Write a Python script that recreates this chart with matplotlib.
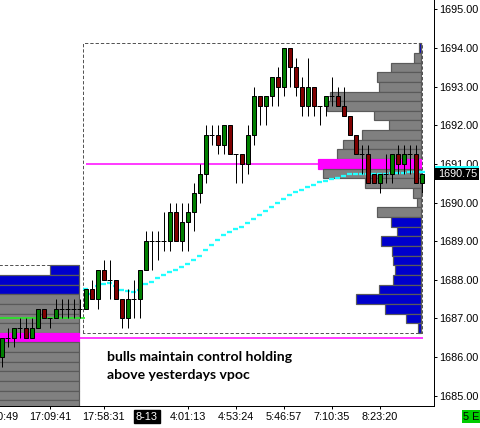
import matplotlib
matplotlib.use("Agg")
import matplotlib.pyplot as plt
from matplotlib import font_manager
from matplotlib.patches import Rectangle
from matplotlib.transforms import blended_transform_factory

# ---- candles (one bar per index, previous session 0-13, today 14-70)
opens = [1686.0, 1686.5, 1686.5, 1686.75, 1686.75, 1686.5, 1686.75, 1687.25, 1687.0, 1687.0,
         1687.25, 1687.25, 1687.25, 1687.25,
         1687.25, 1687.75, 1687.5, 1688.25, 1688.0, 1688.0, 1687.5, 1687.0, 1687.5, 1687.5,
         1688.25, 1689.0, 1689.0, 1689.0, 1689.0, 1689.75, 1689.0, 1689.5, 1689.75, 1690.25,
         1690.75, 1691.75, 1691.75, 1691.5, 1692.0, 1691.25, 1691.25, 1691.0, 1691.75, 1692.75,
         1692.5, 1692.75, 1693.25, 1693.0, 1694.0, 1693.5, 1693.0, 1692.5, 1693.0, 1692.5,
         1692.5, 1692.75, 1692.75, 1692.5, 1692.25, 1691.75, 1691.25, 1691.25, 1690.75, 1690.5,
         1690.75, 1690.75, 1691.25, 1691.0, 1691.25, 1691.25, 1690.5]
highs = [1686.5, 1686.75, 1686.75, 1687.0, 1687.0, 1687.0, 1687.25, 1687.25, 1687.0, 1687.5,
         1687.5, 1687.5, 1687.5, 1687.5,
         1687.75, 1688.0, 1688.25, 1688.5, 1688.5, 1688.0, 1687.5, 1687.75, 1688.0, 1688.25,
         1689.25, 1689.25, 1689.25, 1689.75, 1690.0, 1690.0, 1690.0, 1690.0, 1690.5, 1691.0,
         1692.0, 1692.0, 1692.0, 1692.0, 1692.0, 1691.25, 1691.25, 1692.0, 1693.0, 1692.75,
         1692.75, 1693.25, 1693.5, 1694.0, 1694.0, 1693.75, 1693.25, 1693.75, 1693.0, 1692.5,
         1692.75, 1693.25, 1693.0, 1693.0, 1692.25, 1691.75, 1691.5, 1691.5, 1690.75, 1690.75,
         1691.25, 1691.25, 1691.5, 1691.5, 1691.5, 1691.5, 1690.75]
lows = [1685.75, 1686.25, 1686.25, 1686.5, 1686.5, 1686.5, 1686.75, 1687.0, 1686.75, 1687.0,
        1687.0, 1687.0, 1687.0, 1687.0,
        1687.25, 1687.5, 1687.25, 1688.0, 1687.5, 1687.5, 1686.75, 1686.75, 1687.0, 1687.0,
        1688.25, 1688.25, 1688.5, 1688.75, 1688.75, 1689.0, 1688.75, 1688.75, 1689.25, 1690.0,
        1690.5, 1691.5, 1691.25, 1691.25, 1691.25, 1690.5, 1690.5, 1690.75, 1691.5, 1692.0,
        1692.0, 1692.5, 1692.5, 1692.75, 1693.0, 1692.75, 1692.25, 1692.25, 1692.25, 1692.0,
        1692.25, 1692.5, 1692.5, 1692.25, 1691.75, 1691.25, 1690.75, 1690.5, 1690.5, 1690.25,
        1690.5, 1690.5, 1690.75, 1690.75, 1690.75, 1690.5, 1690.25]
closes = [1686.5, 1686.5, 1686.75, 1686.75, 1686.5, 1686.75, 1687.25, 1687.0, 1687.0, 1687.25,
          1687.25, 1687.25, 1687.25, 1687.25,
          1687.75, 1687.5, 1688.25, 1688.0, 1688.0, 1687.5, 1687.0, 1687.5, 1687.5, 1688.25,
          1689.0, 1689.0, 1689.0, 1689.0, 1689.75, 1689.0, 1689.5, 1689.75, 1690.25, 1690.75,
          1691.75, 1691.75, 1691.5, 1692.0, 1691.25, 1691.25, 1691.0, 1691.75, 1692.75, 1692.5,
          1692.75, 1693.25, 1693.0, 1694.0, 1693.5, 1693.0, 1692.5, 1693.0, 1692.5, 1692.5,
          1692.75, 1692.75, 1692.5, 1692.25, 1691.75, 1691.25, 1691.25, 1690.5, 1690.5, 1690.75,
          1690.75, 1691.25, 1691.0, 1691.25, 1691.25, 1690.5, 1690.75]
session_start = 14

# developing vwap of today's session (bars 14..70)
vwap = [1687.76, 1687.63, 1687.84, 1687.89, 1687.92, 1687.84, 1687.74, 1687.71, 1687.69, 1687.74,
        1687.88, 1687.94, 1688.04, 1688.11, 1688.21, 1688.26, 1688.34, 1688.41, 1688.52, 1688.62,
        1688.78, 1688.91, 1689.04, 1689.17, 1689.24, 1689.32, 1689.37, 1689.48, 1689.58, 1689.68,
        1689.79, 1689.89, 1689.99, 1690.10, 1690.20, 1690.28, 1690.33, 1690.41, 1690.46, 1690.52,
        1690.56, 1690.62, 1690.64, 1690.69, 1690.73, 1690.74, 1690.75, 1690.75, 1690.75, 1690.75,
        1690.75, 1690.76, 1690.77, 1690.77, 1690.78, 1690.78, 1690.78]

# ---- volume profiles
cur_levels = [1694.0, 1693.75, 1693.5, 1693.25, 1693.0, 1692.75, 1692.5, 1692.25, 1692.0, 1691.75,
              1691.5, 1691.25, 1691.0, 1690.75, 1690.5, 1690.25, 1690.0, 1689.75, 1689.5, 1689.25,
              1689.0, 1688.75, 1688.5, 1688.25, 1688.0, 1687.75, 1687.5, 1687.25, 1687.0, 1686.75]
cur_vol = [20, 67, 303, 437, 417, 910, 943, 470, 317, 587,
           777, 843, 1030, 977, 560, 77, 37, 437, 303, 237,
           403, 287, 277, 257, 277, 417, 650, 357, 150, 27]
cur_poc, cur_vah, cur_val = 1691.0, 1693.75, 1689.75

prev_levels = [1688.25, 1688.0, 1687.75, 1687.5, 1687.25, 1687.0, 1686.75, 1686.5, 1686.25, 1686.0,
               1685.75, 1685.5, 1685.25, 1685.0, 1684.75, 1684.5]
prev_vol = [290, 1100, 1350, 1600, 1750, 1900, 2100, 2600, 2300, 2000,
            1800, 1700, 1650, 1500, 1400, 1300]
prev_poc, prev_vah = 1686.5, 1687.5
prev_settle = 1687.0
prev_high = 1688.25

time_ticks = [8, 17, 31, 39, 47, 55, 63]
time_labels = ['17:09:41', '17:58:31', '4:01:13', '4:53:24', '5:46:57', '7:10:35', '8:23:20']
y_ticks = [1685, 1686, 1687, 1688, 1689, 1690, 1691, 1692, 1693, 1694, 1695]
note = ['bulls maintain control holding', 'above yesterdays vpoc']


def pick_font(names):
    for n in names:
        try:
            font_manager.findfont(n, fallback_to_default=False)
            return n
        except ValueError:
            pass
    return 'DejaVu Sans'


axis_font = pick_font(['Liberation Sans Narrow', 'Liberation Sans'])
axis_size = 9.5 if axis_font == 'Liberation Sans Narrow' else 7.8
note_font = pick_font(['Lato', 'Open Sans'])

PX = 0.72  # one pixel in points at dpi 100
VOL_SCALE = 1 / 60.0  # bar units per volume unit
TICK = 0.25

fig = plt.figure(figsize=(4.81, 4.28), dpi=100)
ax = fig.add_axes([0, 22 / 428, 434 / 481, 406 / 428])
ax.set_xlim(-0.3, 72.05)
ax.set_ylim(1684.73, 1695.245)

blue = '#0000cc'
grey = '#808080'
edge = '#5a5a5a'
magenta = '#ff00ff'

# previous session profile (right edge at last bar of that session)
prev_right = session_start - 1.07
for lv, v in zip(prev_levels, prev_vol):
    if lv == prev_poc:
        c = magenta
    elif lv > prev_vah:
        c = blue
    else:
        c = grey
    w = v * VOL_SCALE
    ax.add_patch(Rectangle((prev_right - w, lv - TICK / 2), w, TICK, facecolor=c,
                           edgecolor=edge if c != magenta else magenta, lw=1.2 * PX, zorder=1))
ax.hlines(prev_high + TICK / 2, -1, prev_right, colors='#555555', lw=PX,
          linestyles=(0, (3.3, 2.0)), zorder=0.5)

# today's profile
cur_right = len(opens) - 1 - 0.1
for lv, v in zip(cur_levels, cur_vol):
    if lv == cur_poc:
        c = magenta
    elif lv > cur_vah or lv < cur_val:
        c = blue
    else:
        c = grey
    w = v * VOL_SCALE
    ax.add_patch(Rectangle((cur_right - w, lv - TICK / 2), w, TICK, facecolor=c,
                           edgecolor=edge if c != magenta else magenta, lw=1.2 * PX, zorder=1))

# session box
box_l, box_r = session_start - 0.4, len(opens) - 1
box_b, box_t = min(lows[session_start:]) - TICK / 2, max(highs[session_start:]) + TICK / 2
ax.plot([box_l, box_l, box_r, box_r, box_l], [box_b, box_t, box_t, box_b, box_b],
        color='#555555', lw=PX, dashes=(3.3, 2.0), zorder=1.5)

# poc lines, settlement line
ax.hlines(cur_poc, session_start, len(opens) - 1, colors=magenta, lw=1.5 * PX, zorder=1.2)
ax.hlines(prev_poc, session_start - 0.95, len(opens) - 0.8, colors=magenta, lw=1.5 * PX, zorder=2)
ax.hlines(prev_settle, -1, session_start - 0.1, colors='#22ee22', lw=1.6 * PX, zorder=3.5)

# vwap as short steps
for k, v in enumerate(vwap):
    i = session_start + k
    ax.hlines(v, i - 0.42, i + 0.42 if k < len(vwap) - 1 else i + 0.55,
              colors='#22ffff', lw=2.3 * PX, zorder=3)

# candles
bw = 0.7
for i, (o, h, l, c) in enumerate(zip(opens, highs, lows, closes)):
    ax.vlines(i, l, h, colors='black', lw=PX, zorder=4)
    if c == o:
        ax.hlines(o, i - bw / 2 - 0.05, i + bw / 2 + 0.05, colors='black', lw=PX, zorder=4)
    else:
        col = '#008000' if c > o else '#800000'
        ax.add_patch(Rectangle((i - bw / 2, min(o, c)), bw, abs(c - o), facecolor=col,
                               edgecolor='black', lw=PX, zorder=4.5))

# note
ax.text(session_start + 3.5, 1686.0, note[0], fontfamily=note_font, fontweight='bold',
        fontsize=10.1, va='center', ha='left', zorder=6)
ax.text(session_start + 3.5, 1685.53, note[1], fontfamily=note_font, fontweight='bold',
        fontsize=10.1, va='center', ha='left', zorder=6)

# axes
for s in ['top', 'left']:
    ax.spines[s].set_visible(False)
for s in ['right', 'bottom']:
    ax.spines[s].set_linewidth(PX)
    ax.spines[s].set_color('black')
ax.yaxis.tick_right()
ax.set_yticks(y_ticks)
ax.set_yticklabels(['%.2f' % t for t in y_ticks], fontfamily=axis_font, fontsize=axis_size)
ax.tick_params(axis='y', length=3 * PX, width=PX, pad=1.5)
ax.set_xticks(time_ticks)
ax.set_xticklabels([])
ax.tick_params(axis='x', length=3 * PX, width=PX)

xt = blended_transform_factory(ax.transData, ax.transAxes)
for t, lab in zip([-0.83] + time_ticks, ['16:20:49'] + time_labels):
    ax.text(t, -10.5 / 406, lab, transform=xt, ha='center', va='center',
            fontfamily=axis_font, fontsize=axis_size, clip_on=False)
ax.text(24.2, -10.5 / 406, '8-13', transform=xt, ha='center', va='center', color='white',
        fontfamily=axis_font, fontsize=axis_size, clip_on=False,
        bbox=dict(boxstyle='square,pad=0.15', facecolor='black', edgecolor='black'))

# last price / vwap labels on the price scale
yt = blended_transform_factory(ax.transAxes, ax.transData)
lab_h = 12 / 38.6
ax.add_patch(Rectangle((1.002, vwap[-1] - lab_h / 2), 44 / 434, lab_h, transform=yt,
                       facecolor='#22ffff', edgecolor='none', clip_on=False, zorder=9))
last = closes[-1]
ax.add_patch(Rectangle((1.002, last - lab_h / 2), 44 / 434, lab_h, transform=yt,
                       facecolor='black', edgecolor='none', clip_on=False, zorder=10))
ax.text(1.0095, last, '%.2f' % last, transform=yt, color='white', va='center', ha='left',
        fontfamily=axis_font, fontsize=axis_size, clip_on=False, zorder=11)

# bar-type badge
fig.patches.append(Rectangle((462 / 481, 5 / 428), 19 / 481, 13 / 428, transform=fig.transFigure,
                             facecolor='#00cc00', edgecolor='none'))
fig.text(471.5 / 481, 11.5 / 428, '5 E', ha='center', va='center',
         fontfamily=axis_font, fontsize=axis_size)

fig.savefig('out.png', dpi=100)
